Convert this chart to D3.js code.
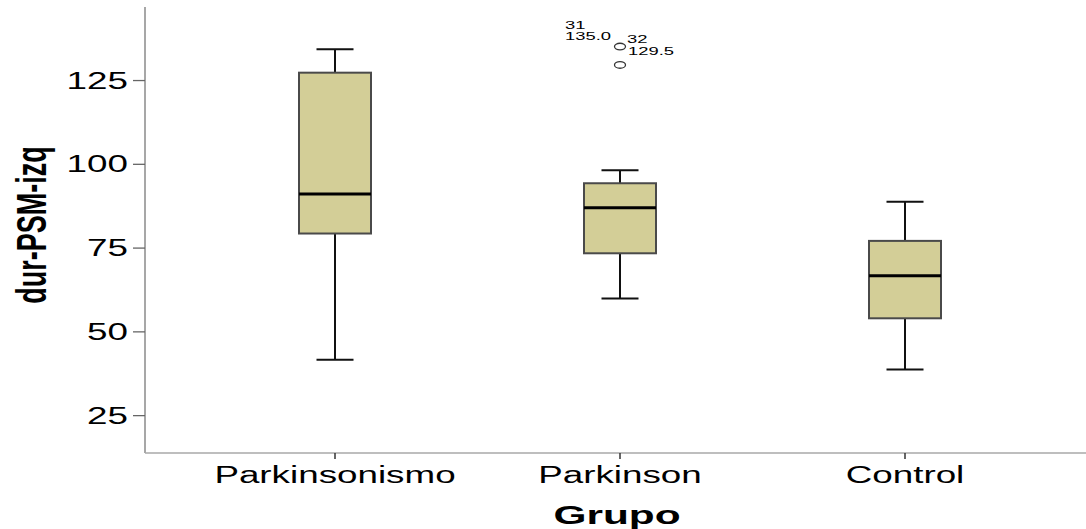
<!DOCTYPE html>
<html>
<head>
<meta charset="utf-8">
<script src="https://cdn.jsdelivr.net/npm/d3@7"></script>
<style>
  html, body { margin: 0; padding: 0; background: #fff; }
  svg { display: block; font-family: "Liberation Sans", Arial, sans-serif; }
</style>
</head>
<body>
<svg id="chart" width="1086" height="529"></svg>
<script>
// ---- data ----
const categories = ["Parkinsonismo", "Parkinson", "Control"];
const whiskerLow  = [41.5, 59.8, 38.6];
const q1          = [79.2, 73.3, 53.9];
const median      = [91.0, 86.9, 66.6];
const q3          = [127.2, 94.2, 77.0];
const whiskerHigh = [134.2, 98.1, 88.7];
const outlierCats   = ["Parkinson", "Parkinson"];
const outlierValues = [135.0, 129.5];
const outlierIds    = ["31", "32"];
const yTicks = [25, 50, 75, 100, 125];
const xTitle = "Grupo";
const yTitle = "dur-PSM-izq";

// ---- layout ----
const svg = d3.select("#chart");
const SX = 1.6; // horizontal stretch of the original picture
const axisX = 145, axisBottom = 453, axisTop = 7;

const y = d3.scaleLinear().domain([13.7, 146.8]).range([axisBottom, axisTop]);
const x = d3.scaleBand().domain(categories).range([192.5, 1047.5]).padding(0);
const cx = c => x(c) + x.bandwidth() / 2;
const boxW = 72, capW = 37;

// axis lines
svg.append("line").attr("x1", axisX).attr("x2", axisX).attr("y1", axisTop).attr("y2", axisBottom)
  .attr("stroke", "#8a8a8a").attr("stroke-width", 1.5);
svg.append("line").attr("x1", axisX).attr("x2", 1086).attr("y1", axisBottom).attr("y2", axisBottom)
  .attr("stroke", "#a8a8a8").attr("stroke-width", 1.5);

// y axis
const yAxis = svg.append("g").attr("transform", `translate(${axisX},0)`)
  .call(d3.axisLeft(y).tickValues(yTicks).tickSize(12).tickSizeOuter(0).tickFormat(d3.format("d")));
yAxis.select(".domain").remove();
yAxis.selectAll(".tick line").attr("stroke", "#666").attr("stroke-width", 1.3);
yAxis.selectAll(".tick text")
  .attr("x", 0).attr("dy", 0).attr("y", 0)
  .attr("transform", `translate(-17,8) scale(${SX},1)`)
  .attr("font-size", 23).attr("font-family", "Liberation Sans, Arial, sans-serif")
  .attr("fill", "#000").attr("text-anchor", "end");

// x axis
const xAxis = svg.append("g").attr("transform", `translate(0,${axisBottom})`)
  .call(d3.axisBottom(x).tickSize(6).tickSizeOuter(0));
xAxis.select(".domain").remove();
xAxis.selectAll(".tick line").attr("stroke", "#333").attr("stroke-width", 1.5);
xAxis.selectAll(".tick text")
  .attr("y", 0).attr("dy", 0)
  .attr("transform", `translate(0,30) scale(${SX},1)`)
  .attr("font-size", 23).attr("font-family", "Liberation Sans, Arial, sans-serif")
  .attr("fill", "#000").attr("text-anchor", "middle");

// titles
svg.append("text").text(xTitle)
  .attr("transform", `translate(617,524) scale(${SX},1)`)
  .attr("text-anchor", "middle").attr("font-size", 26.5).attr("font-weight", "bold").attr("fill", "#000");
svg.append("text").text(yTitle)
  .attr("transform", `translate(46,225) scale(${SX},1) rotate(-90)`)
  .attr("text-anchor", "middle").attr("font-size", 27).attr("font-weight", "bold").attr("fill", "#000");

// boxes
const g = svg.append("g");
categories.forEach((c, i) => {
  const xc = cx(c);
  // whiskers
  g.append("line").attr("x1", xc).attr("x2", xc).attr("y1", y(q3[i])).attr("y2", y(whiskerHigh[i]))
    .attr("stroke", "#111").attr("stroke-width", 2);
  g.append("line").attr("x1", xc).attr("x2", xc).attr("y1", y(q1[i])).attr("y2", y(whiskerLow[i]))
    .attr("stroke", "#111").attr("stroke-width", 2);
  g.append("line").attr("x1", xc - capW / 2).attr("x2", xc + capW / 2).attr("y1", y(whiskerHigh[i])).attr("y2", y(whiskerHigh[i]))
    .attr("stroke", "#111").attr("stroke-width", 2);
  g.append("line").attr("x1", xc - capW / 2).attr("x2", xc + capW / 2).attr("y1", y(whiskerLow[i])).attr("y2", y(whiskerLow[i]))
    .attr("stroke", "#111").attr("stroke-width", 2);
  // box
  g.append("rect").attr("x", xc - boxW / 2).attr("width", boxW)
    .attr("y", y(q3[i])).attr("height", y(q1[i]) - y(q3[i]))
    .attr("fill", "#d3ce97").attr("stroke", "#4a4a4a").attr("stroke-width", 2);
  // median
  g.append("line").attr("x1", xc - boxW / 2).attr("x2", xc + boxW / 2).attr("y1", y(median[i])).attr("y2", y(median[i]))
    .attr("stroke", "#000").attr("stroke-width", 3);
});

// outliers
const labelFmt = d3.format(".1f");
outlierValues.forEach((v, i) => {
  const xc = cx(outlierCats[i]), yc = y(v);
  g.append("ellipse").attr("cx", xc).attr("cy", yc).attr("rx", 5.5).attr("ry", 3.3)
    .attr("fill", "none").attr("stroke", "#333").attr("stroke-width", 1.3);
});
// case labels (first to the upper left of its point, second to the upper right)
const o1x = cx(outlierCats[0]), o1y = y(outlierValues[0]);
const o2x = cx(outlierCats[1]), o2y = y(outlierValues[1]);
function lab(txt, px, py) {
  svg.append("text").text(txt).attr("transform", `translate(${px},${py}) scale(${SX},1)`)
    .attr("font-size", 11.5).attr("fill", "#000").attr("text-anchor", "start");
}
lab(outlierIds[0], o1x - 55, o1y - 18);
lab(labelFmt(outlierValues[0]), o1x - 55, o1y - 7);
lab(outlierIds[1], o2x + 7, o2y - 22);
lab(labelFmt(outlierValues[1]), o2x + 8, o2y - 10);
</script>
</body>
</html>
